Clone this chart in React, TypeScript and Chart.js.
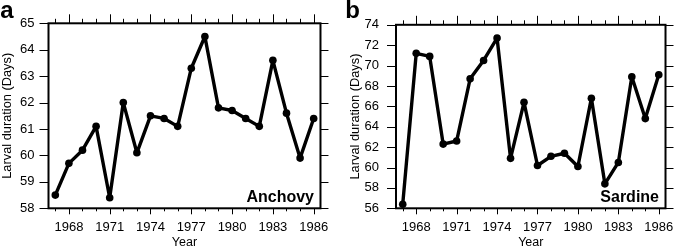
import React, { useEffect, useRef } from "react";
import { Chart, registerables } from "chart.js";

Chart.register(...registerables);

const years = [1967, 1968, 1969, 1970, 1971, 1972, 1973, 1974, 1975, 1976, 1977, 1978, 1979, 1980, 1981, 1982, 1983, 1984, 1985, 1986];
const yearTickLabels = [1968, 1971, 1974, 1977, 1980, 1983, 1986];
const anchovyDays = [58.5, 59.7, 60.2, 61.1, 58.4, 62.0, 60.1, 61.5, 61.4, 61.1, 63.3, 64.5, 61.8, 61.7, 61.4, 61.1, 63.6, 61.6, 59.9, 61.4];
const sardineDays = [56.4, 71.2, 70.9, 62.3, 62.6, 68.7, 70.5, 72.7, 60.9, 66.4, 60.2, 61.1, 61.4, 60.1, 66.8, 58.4, 60.5, 68.9, 64.8, 69.1];
const anchovyTicks = [58, 59, 60, 61, 62, 63, 64, 65];
const sardineTicks = [56, 58, 60, 62, 64, 66, 68, 70, 72, 74];

const FONT = "'Liberation Sans', Arial, Helvetica, sans-serif";

type PanelProps = {
  letter: string;
  species: string;
  values: number[];
  yTicks: number[];
  width: number;
  left: number;
  yAxisWidth: number;
  yLabelPad: number;
  yTitlePad: number;
  padRight: number;
  letterX: number;
};

function Panel(p: PanelProps) {
  const ref = useRef<HTMLCanvasElement | null>(null);
  useEffect(() => {
    const canvas = ref.current;
    if (!canvas) return;
    const frame = {
      id: "frame",
      afterDraw(chart: any) {
        const { ctx, chartArea } = chart;
        const { left, right, top, bottom } = chartArea;
        const xs = chart.scales.x;
        const ys = chart.scales.y;
        ctx.save();
        ctx.strokeStyle = "#000";
        ctx.lineWidth = 1;
        ctx.beginPath();
        for (const yr of years) {
          const px = Math.round(xs.getPixelForValue(yr)) + 0.5;
          const major = yearTickLabels.includes(yr);
          ctx.moveTo(px, bottom);
          ctx.lineTo(px, bottom + (major ? 6 : 3));
          ctx.moveTo(px, top);
          ctx.lineTo(px, top - (major ? 9 : 4.5));
        }
        for (const v of p.yTicks) {
          const py = Math.round(ys.getPixelForValue(v)) + 0.5;
          ctx.moveTo(left, py);
          ctx.lineTo(left - 9, py);
          ctx.moveTo(right, py);
          ctx.lineTo(right + 8, py);
        }
        ctx.stroke();
        ctx.lineWidth = 2;
        ctx.strokeRect(left, top, right - left, bottom - top);
        ctx.fillStyle = "#000";
        ctx.font = `bold 16px ${FONT}`;
        ctx.textAlign = "right";
        ctx.textBaseline = "alphabetic";
        ctx.fillText(p.species, right - 6.5, bottom - 6.3);
        ctx.font = `bold 24px ${FONT}`;
        ctx.textAlign = "left";
        ctx.fillText(p.letter, p.letterX, 18.3);
        ctx.restore();
      },
    };
    const tickFont = { family: FONT, size: 13 };
    const chart = new Chart(canvas, {
      type: "line",
      data: {
        datasets: [
          {
            data: years.map((yr, i) => ({ x: yr, y: p.values[i] })),
            borderColor: "#000",
            backgroundColor: "#000",
            borderWidth: 3.4,
            borderJoinStyle: "round",
            pointRadius: 3.8,
            pointBackgroundColor: "#000",
            pointBorderWidth: 0,
            tension: 0,
          },
        ],
      },
      options: {
        animation: false,
        responsive: false,
        events: [],
        layout: { padding: { top: 23.3, right: p.padRight, left: 0, bottom: 0 } },
        plugins: { legend: { display: false }, tooltip: { enabled: false } },
        scales: {
          x: {
            type: "linear",
            min: 1966.5,
            max: 1986.5,
            afterBuildTicks: (s: any) => {
              s.ticks = years.map((v) => ({ value: v }));
            },
            afterFit: (s: any) => {
              s.height = 43.7;
            },
            ticks: {
              autoSkip: false,
              maxRotation: 0,
              padding: 11.5,
              color: "#000",
              font: tickFont,
              callback: (v: any) => (yearTickLabels.includes(Number(v)) ? String(v) : ""),
            },
            grid: { display: false, drawTicks: false },
            border: { display: false },
            title: { display: true, text: "Year", color: "#000", font: { family: FONT, size: 12.5 }, padding: { top: 0, bottom: 2 } },
          },
          y: {
            type: "linear",
            min: p.yTicks[0],
            max: p.yTicks[p.yTicks.length - 1],
            afterBuildTicks: (s: any) => {
              s.ticks = p.yTicks.map((v) => ({ value: v }));
            },
            afterFit: (s: any) => {
              s.width = p.yAxisWidth;
            },
            ticks: { padding: p.yLabelPad, color: "#000", font: tickFont },
            grid: { display: false, drawTicks: false },
            border: { display: false },
            title: {
              display: true,
              text: "Larval duration (Days)",
              color: "#000",
              font: { family: FONT, size: 12.8 },
              padding: { top: p.yTitlePad, bottom: 0 },
            },
          },
        },
      },
      plugins: [frame],
    } as any);
    return () => chart.destroy();
  }, []);
  return (
    <canvas
      ref={ref}
      width={p.width}
      height={252}
      style={{ position: "absolute", left: p.left, top: 0, width: p.width, height: 252, display: "block" }}
    />
  );
}

export default function App() {
  return (
    <div style={{ position: "absolute", left: 0, top: 0, width: 685, height: 252, background: "#fff" }}>
      <Panel
        letter="a"
        species="Anchovy"
        values={anchovyDays}
        yTicks={anchovyTicks}
        width={340}
        left={0}
        yAxisWidth={48.5}
        yLabelPad={14}
        yTitlePad={0}
        padRight={14.3}
        letterX={0.3}
      />
      <Panel
        letter="b"
        species="Sardine"
        values={sardineDays}
        yTicks={sardineTicks}
        width={345}
        left={340}
        yAxisWidth={56}
        yLabelPad={17}
        yTitlePad={8}
        padRight={10.7}
        letterX={5.3}
      />
    </div>
  );
}
